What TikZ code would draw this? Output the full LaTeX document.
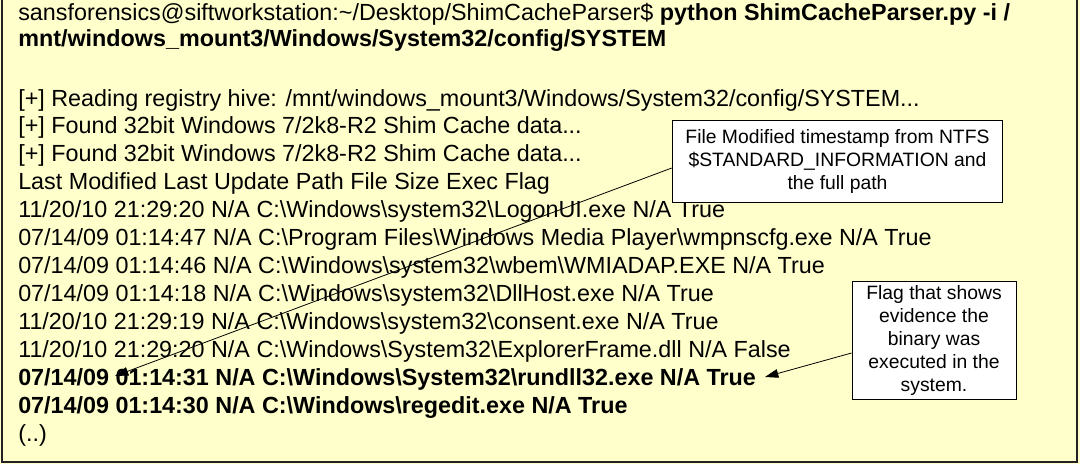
\documentclass[tikz,border=0pt]{standalone}
\usepackage{fontspec}
\setmainfont{Liberation Sans}
\usetikzlibrary{arrows.meta}
\definecolor{notebg}{HTML}{FFFFCC}
\definecolor{framegray}{HTML}{222222}
\tikzset{
  cmdline/.style={anchor=base west, inner sep=0pt, font=\fontsize{17.5pt}{21pt}\selectfont},
  callout/.style={draw=black, line width=0.75pt, fill=white, align=center, inner sep=0pt,
    font=\fontsize{14.5pt}{17.25pt}\selectfont},
  callarrow/.style={line width=0.6pt, -{Triangle[length=10pt,width=6.5pt]}}
}
\newcommand{\bs}{\textbackslash}
\begin{document}
\begin{tikzpicture}[x=0.75pt,y=-0.75pt]
  \useasboundingbox[fill=notebg] (0,0) rectangle (1080,464);
  \draw[framegray, line width=1.5pt] (2,0) -- (2,462) -- (1077,462) -- (1077,0);
  % console output
  \node[cmdline] (l1) at (18,21) {sansforensics@siftworkstation:\textasciitilde/Desktop/ShimCacheParser\$ \textbf{python ShimCacheParser.py -i /}};
  \node[cmdline] (l2) at (18,46) {\textbf{mnt/windows\_mount3/Windows/System32/config/SYSTEM}};
  \node[cmdline] (l3) at (18,106) {[+] Reading registry hive: /mnt/windows\_mount3/Windows/System32/config/SYSTEM...};
  \node[cmdline] (l4) at (18,133) {[+] Found 32bit Windows 7/2k8-R2 Shim Cache data...};
  \node[cmdline] (l5) at (18,161) {[+] Found 32bit Windows 7/2k8-R2 Shim Cache data...};
  \node[cmdline] (l6) at (18,189) {Last Modified Last Update Path File Size Exec Flag};
  \node[cmdline] (l7) at (18,217) {11/20/10 21:29:20 N/A C:\bs Windows\bs system32\bs LogonUI.exe N/A True};
  \node[cmdline] (l8) at (18,245) {07/14/09 01:14:47 N/A C:\bs Program Files\bs Windows Media Player\bs wmpnscfg.exe N/A True};
  \node[cmdline] (l9) at (18,273) {07/14/09 01:14:46 N/A C:\bs Windows\bs system32\bs wbem\bs WMIADAP.EXE N/A True};
  \node[cmdline] (l10) at (18,301) {07/14/09 01:14:18 N/A C:\bs Windows\bs system32\bs DllHost.exe N/A True};
  \node[cmdline] (l11) at (18,329) {11/20/10 21:29:19 N/A C:\bs Windows\bs system32\bs consent.exe N/A True};
  \node[cmdline] (l12) at (18,357) {11/20/10 21:29:20 N/A C:\bs Windows\bs System32\bs ExplorerFrame.dll N/A False};
  \node[cmdline] (l13) at (18,385) {\textbf{07/14/09 01:14:31 N/A C:\bs Windows\bs System32\bs rundll32.exe N/A True}};
  \node[cmdline] (l14) at (18,413) {\textbf{07/14/09 01:14:30 N/A C:\bs Windows\bs regedit.exe N/A True}};
  \node[cmdline] (l15) at (18,441) {(..)};
  % callouts
  \node[callout, minimum width=248pt, minimum height=62pt] (modnote) at (837.5,161.5)
    {File Modified timestamp from NTFS\\\$STANDARD\_INFORMATION and\\the full path};
  \node[callout, minimum width=123pt, minimum height=88.5pt] (flagnote) at (934,340)
    {Flag that shows\\evidence the\\binary was\\executed in the\\system.};
  \coordinate (modtip) at (115,376);
  \coordinate (flagtip) at (765,377);
  \draw[callarrow] ([yshift=-4.9pt]modnote.west) -- (modtip);
  \draw[callarrow] ([yshift=-9.75pt]flagnote.west) -- (flagtip);
\end{tikzpicture}
\end{document}
